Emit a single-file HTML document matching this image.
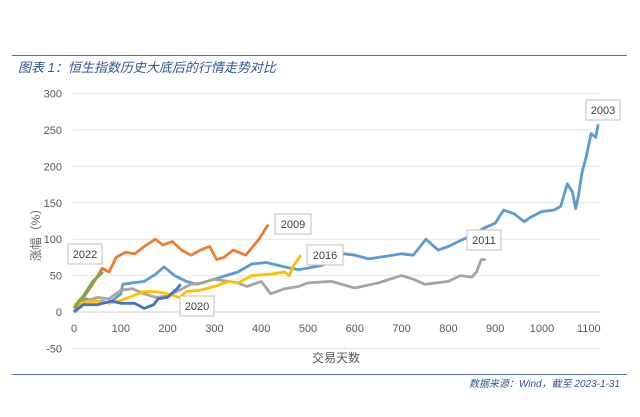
<!DOCTYPE html>
<html><head><meta charset="utf-8">
<style>
html,body{margin:0;padding:0;background:#fff;}
body{width:640px;height:412px;overflow:hidden;position:relative;font-family:"Liberation Sans","Noto Sans CJK SC",sans-serif;}
</style></head>
<body>
<svg id="chart" width="640" height="412" viewBox="0 0 640 412" xmlns="http://www.w3.org/2000/svg">
<line x1="12" y1="55.5" x2="627" y2="55.5" stroke="#4f6fa8" stroke-width="1"/>
<text x="18" y="72" font-size="13" font-style="italic" fill="#2e5597" font-family="'Liberation Sans','Noto Sans CJK SC',sans-serif">图表 1：恒生指数历史大底后的行情走势对比</text>
<g id="grid"></g>
<g id="yticks"></g>
<g id="xticks"></g>
<g id="series"></g>
<g id="callouts"></g>
<text transform="translate(40,232) rotate(-90)" text-anchor="middle" font-size="12" fill="#666">涨幅（%）</text>
<text x="336" y="362" text-anchor="middle" font-size="12" fill="#555">交易天数</text>
<line x1="12" y1="374.5" x2="627" y2="374.5" stroke="#4f6fa8" stroke-width="1"/>
<text x="620" y="387" text-anchor="end" font-size="10" font-style="italic" fill="#2e5597">数据来源：Wind，截至 2023-1-31</text>
</svg>
<script>
const yTicks=[300,250,200,150,100,50,0,-50];
const xTicks=[0,100,200,300,400,500,600,700,800,900,1000,1100];
const d2003=[0,25,50,60,75,100,104,125,150,175,192,200,215,240,262,300,350,380,411,450,480,498,530,577,600,630,660,700,725,752,778,800,825,850,875,900,918,940,962,975,1000,1025,1040,1054,1065,1072,1078,1085,1095,1105,1115,1120];
const v2003=[0,18,15,15,12,25,38,40,42,52,62,58,50,42,38,45,55,66,68,62,58,60,64,80,78,73,76,80,78,100,85,90,98,105,115,122,140,135,124,130,138,140,145,176,165,142,160,190,215,245,240,258];
const d2009=[0,20,40,60,75,90,110,130,150,174,190,210,230,250,270,290,305,320,340,367,380,395,405,415];
const v2009=[0,20,38,60,55,75,82,80,90,100,92,97,85,78,85,90,72,75,85,78,88,100,110,120];
const d2011=[0,25,50,75,100,125,150,175,200,225,250,275,300,330,350,370,400,420,450,480,500,550,600,650,700,725,750,800,825,850,860,870,880];
const v2011=[0,15,20,18,30,32,25,20,22,30,38,40,45,42,40,35,42,25,32,35,40,42,33,40,50,45,38,42,50,48,55,72,72];
const d2016=[0,25,50,75,100,125,150,175,200,225,240,270,300,330,350,380,420,450,460,470,485];
const v2016=[10,14,15,12,16,22,28,28,25,20,28,30,35,42,40,50,52,55,50,65,78];
const d2020=[0,20,50,80,100,130,150,170,180,200,220,228];
const v2020=[0,10,10,15,12,12,5,10,18,20,32,38];
const d2022=[0,10,20,30,40,50,62];
const v2022=[5,15,22,32,42,48,55];
const seriesNames=["2003","2009","2011","2016","2020","2022"];
const seriesColors=["#5b9bd5","#ed7d31","#a5a5a5","#ffc000","#4472c4","#70ad47"];
const seriesDays=[d2003,d2009,d2011,d2016,d2020,d2022];
const seriesVals=[v2003,v2009,v2011,v2016,v2020,v2022];
const X0=74,XS=0.468,Y0=312,YS=0.728;
const xs=d=>X0+d*XS, ys=v=>Y0-v*YS;
const NS="http://www.w3.org/2000/svg";
function mk(tag,attrs,parent){const e=document.createElementNS(NS,tag);for(const k in attrs)e.setAttribute(k,attrs[k]);parent.appendChild(e);return e;}
const grid=document.getElementById('grid'),yt=document.getElementById('yticks'),xt=document.getElementById('xticks'),sg=document.getElementById('series'),cg=document.getElementById('callouts');
yTicks.forEach(t=>{
  const l=mk('line',{x1:73,x2:600,y1:ys(t),y2:ys(t),stroke:t===0?'#d0d0d0':'#e6e6e6','stroke-width':1},grid);
  
  
  const tx=mk('text',{x:62,y:ys(t)+4,'text-anchor':'end','font-size':11,fill:'#595959'},yt);
  tx.textContent=t;
  
  
});
xTicks.forEach(t=>{
  const tx=mk('text',{x:xs(t),y:332,'text-anchor':'middle','font-size':11,fill:'#595959'},xt);
  tx.textContent=t;
  
  
});
seriesNames.forEach((n,i)=>{
  const pts=seriesDays[i].map((d,j)=>xs(d).toFixed(1)+','+ys(seriesVals[i][j]).toFixed(1)).join(' ');
  const p=mk('polyline',{points:pts,fill:'none',stroke:seriesColors[i],'stroke-width':2.8,'stroke-linejoin':'round'},sg);
  
  
});
const boxes=[["2003",586,100,34,20],["2009",275,214,36,20],["2016",307,245,36,20],["2011",467,230,34,20],["2020",180,296,34,20],["2022",68,244,34,20]];
boxes.forEach(b=>{
  const g=mk('g',{},cg);
  
  
  mk('rect',{x:b[1],y:b[2],width:b[3],height:b[4],fill:'#fff',stroke:'#bfbfbf','stroke-width':1},g);
  const t=mk('text',{x:b[1]+b[3]/2,y:b[2]+14,'text-anchor':'middle','font-size':11,fill:'#404040'},g);
  t.textContent=b[0];
});
</script>
</body></html>
